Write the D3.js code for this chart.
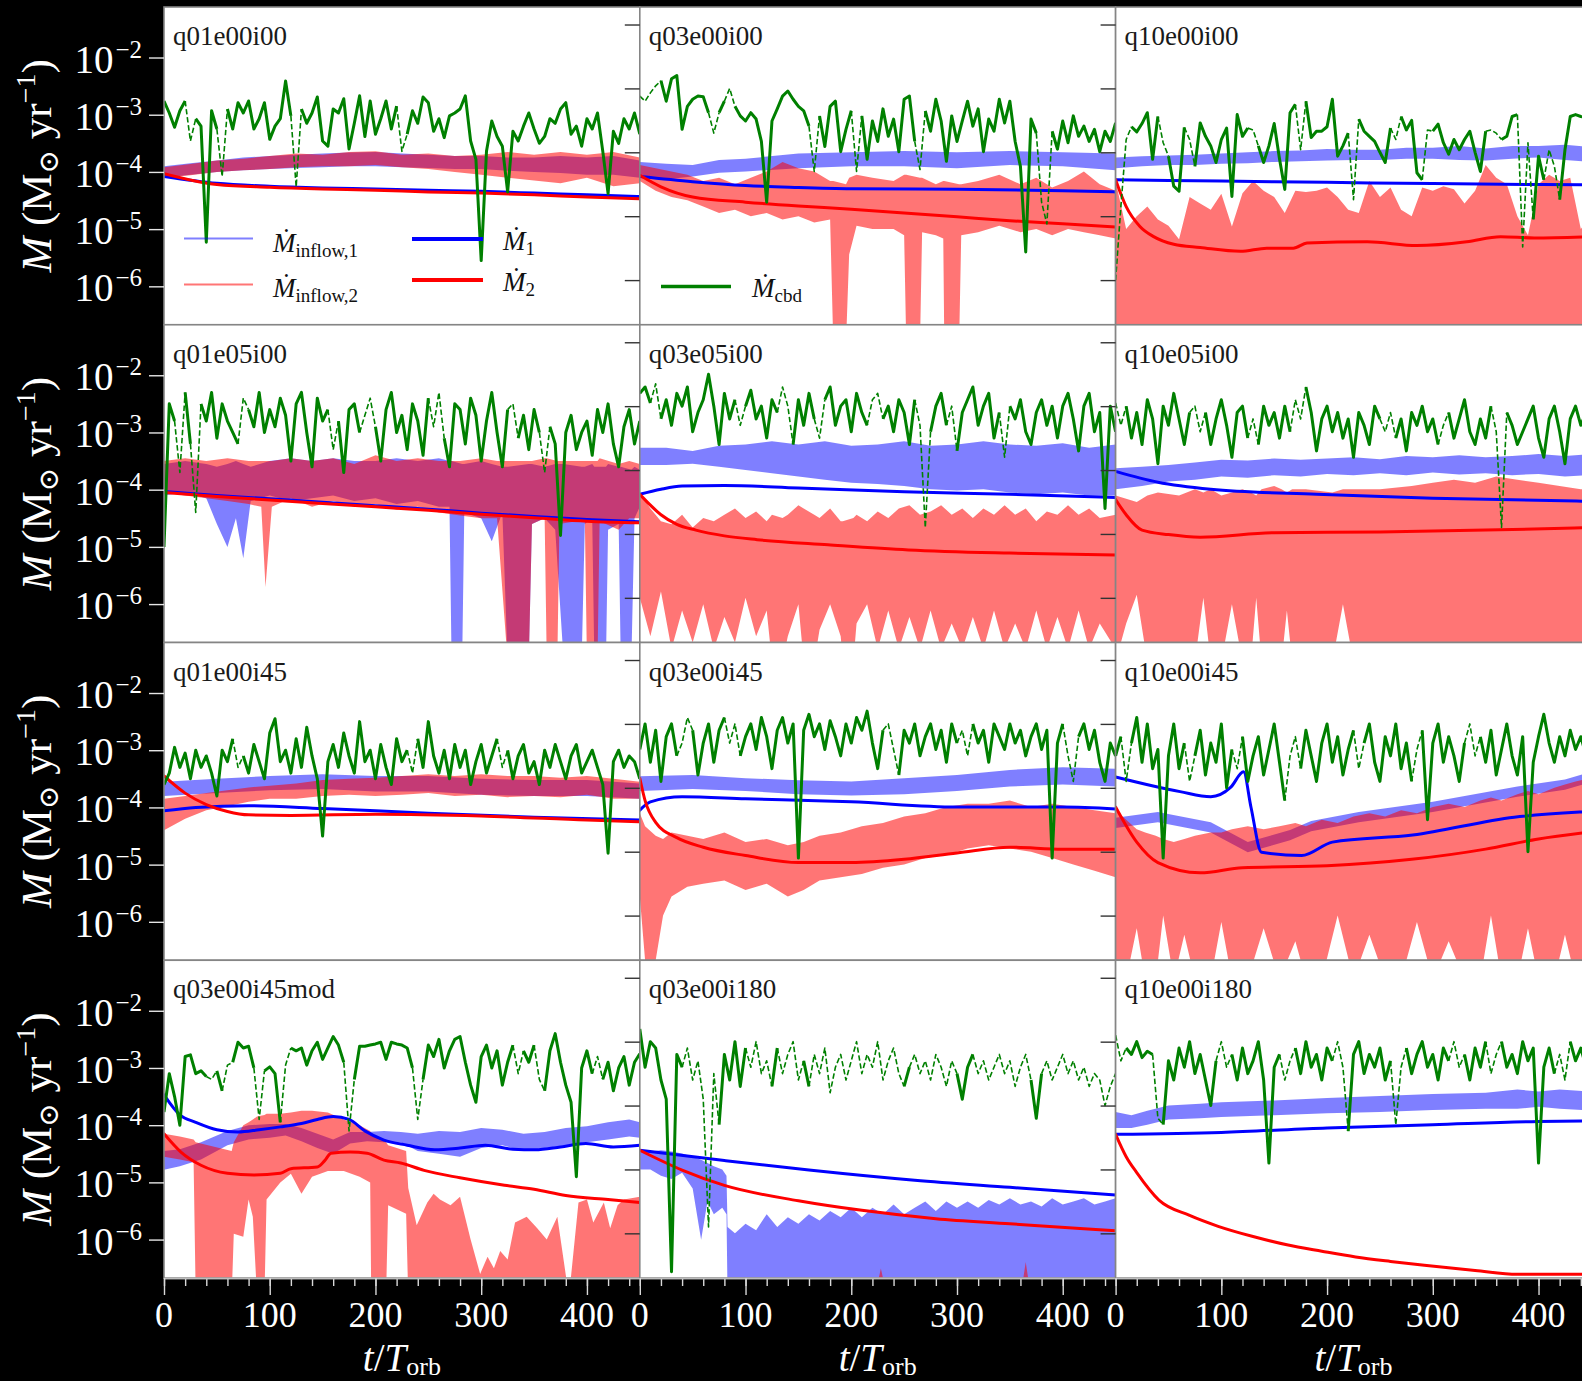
<!DOCTYPE html>
<html><head><meta charset="utf-8"><title>Accretion rate panels</title>
<script src="https://cdn.jsdelivr.net/npm/d3@7/dist/d3.min.js"></script>
<style>html,body{margin:0;padding:0;background:#000;}svg{display:block;}</style>
</head><body>
<svg id="chart" width="1582" height="1381"></svg>
<script>
// ---------- axes ----------
const xLim=[0,450];
const yLimCol1=[2.13e-7,7.64e-2];
const yLimCol23=[2.0e-7,1.88e-2];
const yTickValues=[1e-2,1e-3,1e-4,1e-5,1e-6];
const yTickExponents=["−2","−3","−4","−5","−6"];
const xMajorTicks=[0,100,200,300,400];
const xMinorTicks=[0,20,40,60,80,100,120,140,160,180,200,220,240,260,280,300,320,340,360,380,400,420,440];
const cbdStep=5;   // sampling of the circumbinary-disc accretion series (t/T_orb)
const FLOOR=-7;    // log10 value below the axis (fill reaches the bottom)
const panelNames=["q01e00i00","q03e00i00","q10e00i00","q01e05i00","q03e05i00","q10e05i00","q01e00i45","q03e00i45","q10e00i45","q03e00i45mod","q03e00i180","q10e00i180"];
// all values are log10(Mdot / Msun yr^-1)

// ---------- q01e00i00 ----------
const p1_cbd=[-2.76,-2.97,-3.22,-2.93,-2.76,-3.46,-3.07,-3.2,-5.23,-2.93,
-3.25,-4.08,-2.9,-3.25,-2.79,-2.97,-2.76,-3.25,-3.07,-2.79,
-3.43,-3.2,-3.07,-2.41,-3.02,-4.26,-2.9,-3.15,-2.97,-2.69,
-3.46,-3.55,-2.9,-2.97,-2.72,-3.6,-3.15,-2.67,-3.38,-2.76,
-3.34,-3.07,-2.76,-3.25,-2.85,-3.64,-3.34,-2.93,-3.15,-2.69,
-2.79,-3.29,-3.07,-3.4,-3.02,-2.97,-2.9,-2.67,-3.46,-3.78,
-5.55,-3.64,-3.11,-3.38,-3.55,-4.35,-3.29,-3.46,-3.2,-2.97,
-3.25,-3.5,-3.38,-3.07,-3.15,-2.9,-2.79,-3.34,-3.2,-3.55,
-3.07,-3.25,-2.97,-3.64,-4.38,-3.29,-3.5,-3.07,-3.25,-2.97,-3.34];
const p1_neg=[[20,30],[50,60],[120,130],[220,230]];
const p1_in1T=[0,25,50,75,100,125,150,175,200,225,250,275,300,325,350,375,400,425,450];
const p1_in1Hi=[-3.9,-3.85,-3.8,-3.75,-3.72,-3.7,-3.68,-3.66,-3.65,-3.68,-3.7,-3.72,-3.72,-3.75,-3.75,-3.72,-3.75,-3.72,-3.8];
const p1_in1Lo=[-4.1,-4.05,-4.0,-3.97,-3.95,-3.93,-3.92,-3.9,-3.9,-3.92,-3.93,-3.95,-3.95,-3.98,-4.0,-4.02,-4.05,-4.05,-4.1];
const p1_in2T=[0,25,50,75,100,125,150,175,200,225,250,275,300,325,350,375,400,425,450];
const p1_in2Hi=[-3.92,-3.86,-3.8,-3.77,-3.72,-3.68,-3.7,-3.65,-3.64,-3.7,-3.68,-3.72,-3.7,-3.65,-3.7,-3.65,-3.7,-3.65,-3.75];
const p1_in2Lo=[-4.1,-4.06,-4.0,-3.97,-3.95,-3.92,-3.9,-3.9,-3.88,-3.92,-3.95,-4.0,-4.05,-4.1,-4.15,-4.2,-4.1,-4.25,-4.2];
const p1_m1T=[0,50,100,150,200,250,300,350,400,450];
const p1_m1V=[-4.08,-4.2,-4.25,-4.28,-4.3,-4.32,-4.34,-4.37,-4.4,-4.43];
const p1_m2T=[0,50,100,150,200,250,300,350,400,450];
const p1_m2V=[-4.03,-4.22,-4.27,-4.3,-4.32,-4.35,-4.37,-4.4,-4.44,-4.47];

// ---------- q03e00i00 ----------
const p2_cbd=[-3.12,-3.2,-3.07,-2.96,-2.88,-3.2,-2.85,-2.8,-3.64,-3.28,
-3.17,-3.12,-3.13,-3.38,-3.7,-3.38,-3.2,-3.0,-3.28,-3.43,
-3.51,-3.38,-3.48,-3.83,-4.78,-3.51,-3.32,-3.12,-3.04,-3.17,
-3.28,-3.35,-3.59,-4.3,-3.43,-3.91,-3.28,-3.2,-3.99,-3.64,
-3.35,-4.3,-3.43,-4.11,-3.51,-3.83,-3.32,-3.75,-3.48,-3.99,
-3.17,-3.12,-3.83,-4.27,-3.35,-3.67,-3.17,-3.51,-4.14,-3.43,
-3.83,-3.51,-3.2,-3.59,-3.32,-3.99,-3.48,-3.67,-3.17,-3.54,
-3.2,-3.83,-4.22,-5.56,-3.48,-3.7,-4.78,-5.12,-3.67,-3.95,
-3.51,-3.85,-3.43,-3.75,-3.59,-3.83,-3.64,-3.99,-3.67,-3.83,-3.54];
const p2_neg=[[0,20],[65,75],[80,90],[160,170],[200,210],[260,270],[375,390]];
const p2_in1T=[0,25,50,75,100,150,200,250,300,350,400,450];
const p2_in1Hi=[-4.15,-4.18,-4.2,-4.12,-4.1,-4.02,-4.0,-3.98,-4.0,-3.98,-4.0,-4.02];
const p2_in1Lo=[-4.4,-4.42,-4.38,-4.32,-4.3,-4.25,-4.22,-4.22,-4.25,-4.2,-4.22,-4.28];
const p2_in2T=[0,15,30,45,60,75,90,105,120,135,150,165,180,183,195,198,205,220,240,250,252,265,267,280,287,288,302,304,320,340,360,375,390,405,420,435,450];
const p2_in2Hi=[-4.2,-4.25,-4.3,-4.35,-4.45,-4.4,-4.5,-4.4,-4.3,-4.15,-4.25,-4.3,-4.45,-4.45,-4.5,-4.4,-4.35,-4.4,-4.45,-4.35,-4.35,-4.4,-4.4,-4.5,-4.45,-4.45,-4.5,-4.5,-4.45,-4.35,-4.5,-4.4,-4.55,-4.45,-4.3,-4.5,-4.6];
const p2_in2Lo=[-4.45,-4.6,-4.7,-4.75,-4.85,-4.95,-4.9,-5.0,-4.95,-5.05,-5.0,-5.1,-5.05,-7,-7,-5.6,-5.15,-5.2,-5.2,-5.3,-7,-7,-5.25,-5.3,-5.35,-7,-7,-5.3,-5.25,-5.15,-5.25,-5.2,-5.3,-5.2,-5.25,-5.3,-5.35];
const p2_m1T=[0,50,100,150,200,300,400,450];
const p2_m1V=[-4.38,-4.46,-4.52,-4.55,-4.57,-4.58,-4.6,-4.62];
const p2_m2T=[0,20,50,100,150,200,250,300,350,400,450];
const p2_m2V=[-4.36,-4.54,-4.7,-4.78,-4.84,-4.89,-4.95,-5.01,-5.07,-5.12,-5.17];

// ---------- q10e00i00 ----------
const p3_cbd=[-6.0,-4.85,-3.8,-3.6,-3.68,-3.55,-3.38,-4.11,-3.44,-3.85,
-4.06,-4.53,-4.61,-3.61,-3.8,-4.22,-3.54,-3.75,-3.9,-4.16,
-3.8,-3.62,-4.69,-3.41,-3.75,-3.62,-3.65,-3.9,-4.16,-3.9,
-3.55,-4.1,-4.58,-3.38,-3.25,-3.96,-3.2,-3.77,-3.67,-3.67,
-3.6,-3.17,-4.06,-3.9,-3.7,-4.74,-3.48,-3.67,-3.75,-3.83,
-4.0,-4.16,-3.62,-3.8,-3.44,-3.65,-3.5,-4.32,-4.43,-3.65,
-3.67,-3.56,-3.85,-4.03,-3.8,-3.96,-3.8,-3.67,-4.0,-4.3,
-3.67,-3.65,-3.7,-3.8,-3.75,-3.44,-3.41,-5.48,-3.85,-5.05,
-4.06,-4.43,-3.96,-4.22,-4.74,-3.96,-3.44,-3.41,-3.44,-3.46,-3.6];
const p3_neg=[[0,15],[40,50],[65,75],[125,135],[170,180],[220,230],[260,270],[290,300],[350,365],[380,395],[405,420]];
const p3_in1T=[0,25,50,75,100,125,150,175,200,225,250,275,300,325,350,375,400,425,450];
const p3_in1Hi=[-4.08,-4.06,-4.05,-4.04,-4.02,-4.0,-3.98,-3.97,-3.95,-3.96,-3.96,-3.93,-3.93,-3.9,-3.94,-3.9,-3.9,-3.88,-3.92];
const p3_in1Lo=[-4.25,-4.22,-4.2,-4.2,-4.18,-4.17,-4.15,-4.14,-4.13,-4.12,-4.12,-4.1,-4.1,-4.12,-4.13,-4.1,-4.08,-4.12,-4.15];
const p3_in2T=[0,10,20,30,40,50,60,70,80,90,100,110,120,130,140,150,160,170,180,190,200,210,220,230,240,250,260,270,280,290,300,310,320,330,340,350,360,370,380,390,400,410,420,430,440,450];
const p3_in2Hi=[-4.45,-5.2,-5.0,-4.85,-5.05,-5.15,-5.36,-4.7,-4.8,-4.9,-4.65,-5.16,-4.64,-4.45,-4.6,-4.7,-4.95,-4.6,-4.62,-4.6,-4.55,-4.7,-4.9,-4.95,-4.45,-4.7,-4.55,-4.9,-5.0,-4.55,-4.6,-4.53,-4.58,-4.8,-4.6,-4.2,-4.4,-4.5,-5.0,-5.3,-4.5,-4.35,-4.45,-4.4,-5.2,-5.0];
const p3_in2Lo=FLOOR;
const p3_m1T=[0,100,200,300,450];
const p3_m1V=[-4.43,-4.45,-4.47,-4.49,-4.51];
const p3_m2T=[0,10,23,36,55,80,118,143,168,181,238,285,332,364,396,450];
const p3_m2V=[-4.43,-4.85,-5.16,-5.32,-5.44,-5.49,-5.55,-5.5,-5.5,-5.42,-5.4,-5.46,-5.4,-5.32,-5.34,-5.32];

// ---------- q01e05i00 ----------
const p4_cbd=[-5.0,-2.5,-2.8,-3.7,-2.3,-3.2,-4.4,-2.5,-2.8,-2.3,
-3.1,-2.5,-2.8,-3.0,-3.2,-2.4,-2.6,-2.9,-2.3,-3.0,
-2.6,-2.9,-2.4,-2.7,-3.5,-2.5,-2.3,-3.0,-3.6,-2.4,
-2.8,-2.6,-3.3,-2.8,-3.7,-2.6,-2.5,-3.0,-2.7,-2.4,
-2.9,-3.5,-2.6,-2.3,-3.0,-2.7,-3.3,-2.5,-2.8,-3.4,
-2.4,-2.9,-2.3,-3.1,-3.6,-2.5,-2.6,-3.2,-2.4,-2.7,
-3.5,-2.8,-2.3,-3.0,-3.6,-2.6,-2.5,-3.1,-2.7,-3.3,
-2.6,-3.0,-3.7,-2.9,-3.2,-4.8,-3.0,-2.7,-3.3,-3.0,
-2.8,-3.4,-2.6,-3.0,-2.5,-3.2,-3.6,-2.9,-2.6,-3.2,-2.8];
const p4_neg=[[10,20],[25,35],[70,80],[155,165],[185,200],[250,265],[325,335],[355,365]];
const p4_in1T=[0,20,40,50,60,68,75,82,100,120,140,160,180,200,220,240,260,270,272,282,284,300,310,320,325,345,348,360,370,378,395,398,405,407,418,420,430,432,442,445,450];
const p4_in1Hi=[-3.55,-3.5,-3.55,-3.6,-3.55,-3.5,-3.55,-3.6,-3.5,-3.45,-3.5,-3.45,-3.5,-3.5,-3.45,-3.5,-3.45,-3.5,-3.5,-3.55,-3.55,-3.5,-3.55,-3.6,-3.6,-3.55,-3.55,-3.6,-3.55,-3.55,-3.6,-3.6,-3.55,-3.6,-3.6,-3.55,-3.6,-3.6,-3.65,-3.6,-3.65];
const p4_in1Lo=[-4.1,-4.05,-4.15,-4.6,-5.0,-4.5,-5.2,-4.2,-4.1,-4.2,-4.15,-4.1,-4.2,-4.15,-4.25,-4.2,-4.3,-4.3,-7,-7,-4.4,-4.5,-4.9,-4.4,-7,-7,-4.6,-4.5,-4.7,-7,-7,-4.6,-4.5,-7,-7,-4.7,-4.6,-7,-7,-4.5,-4.3];
const p4_in2T=[0,20,40,60,80,92,96,102,120,140,160,180,200,220,240,260,280,300,315,325,345,348,360,362,372,374,390,398,400,410,412,430,440,450];
const p4_in2Hi=[-3.5,-3.45,-3.5,-3.45,-3.5,-3.5,-3.5,-3.5,-3.45,-3.5,-3.45,-3.55,-3.4,-3.5,-3.45,-3.5,-3.5,-3.45,-3.5,-3.5,-3.5,-3.5,-3.45,-3.45,-3.5,-3.5,-3.5,-3.5,-3.5,-3.5,-3.45,-3.55,-3.5,-3.55];
const p4_in2Lo=[-4.05,-4.1,-4.15,-4.2,-4.25,-4.3,-5.7,-4.3,-4.15,-4.3,-4.2,-4.3,-4.25,-4.35,-4.3,-4.4,-4.45,-4.5,-4.5,-7,-7,-4.6,-4.5,-7,-7,-4.6,-4.55,-4.5,-7,-7,-4.55,-4.7,-4.5,-4.5];
const p4_m1T=[0,50,100,150,200,250,300,350,400,450];
const p4_m1V=[-4.03,-4.1,-4.16,-4.22,-4.28,-4.34,-4.41,-4.47,-4.52,-4.56];
const p4_m2T=[0,50,100,150,200,250,300,350,400,450];
const p4_m2V=[-4.05,-4.12,-4.18,-4.24,-4.3,-4.36,-4.43,-4.49,-4.55,-4.58];

// ---------- q03e05i00 ----------
const p5_cbd=[-2.8,-2.7,-2.95,-2.65,-3.2,-2.9,-3.3,-2.8,-3.0,-2.7,
-3.4,-3.1,-2.9,-2.5,-3.0,-3.6,-2.8,-3.2,-2.9,-3.3,
-3.0,-2.75,-3.2,-3.0,-3.5,-2.9,-3.1,-2.7,-3.0,-3.6,
-2.9,-3.3,-2.8,-3.2,-3.5,-2.9,-2.7,-3.3,-3.0,-2.9,
-3.4,-2.8,-3.1,-3.3,-2.9,-2.8,-3.2,-3.0,-3.4,-2.9,
-3.1,-3.6,-2.9,-3.3,-4.9,-3.4,-3.0,-2.8,-3.3,-3.0,
-3.7,-3.1,-2.9,-2.7,-3.3,-3.0,-2.8,-3.5,-3.1,-3.8,
-3.0,-3.2,-2.9,-3.4,-3.6,-3.1,-2.9,-3.3,-3.0,-3.5,
-3.0,-2.8,-3.2,-3.7,-3.0,-2.8,-3.4,-3.1,-4.6,-3.0,-3.4];
const p5_neg=[[10,20],[90,100],[130,145],[165,175],[215,230],[260,275],[290,300],[340,350]];
const p5_in1T=[0,25,50,75,100,125,150,175,200,225,250,275,300,325,350,375,400,425,450];
const p5_in1Hi=[-3.65,-3.65,-3.7,-3.62,-3.6,-3.55,-3.6,-3.55,-3.62,-3.6,-3.55,-3.62,-3.6,-3.55,-3.6,-3.62,-3.58,-3.65,-3.6];
const p5_in1Lo=[-3.92,-3.92,-3.9,-3.95,-4.0,-4.05,-4.1,-4.15,-4.2,-4.22,-4.25,-4.3,-4.32,-4.3,-4.35,-4.38,-4.35,-4.4,-4.4];
const p5_in2T=[0,10,20,30,40,50,60,70,80,90,100,110,120,125,135,140,150,155,165,170,180,190,192,202,205,215,225,235,245,255,265,275,285,295,305,315,325,335,345,355,365,375,385,395,405,415,425,435,450];
const p5_in2Hi=[-4.35,-4.6,-4.8,-4.85,-4.7,-4.9,-4.75,-4.8,-4.7,-4.6,-4.75,-4.65,-4.8,-4.7,-4.75,-4.7,-4.55,-4.6,-4.7,-4.75,-4.6,-4.8,-4.8,-4.75,-4.7,-4.8,-4.65,-4.75,-4.6,-4.55,-4.7,-4.65,-4.55,-4.7,-4.6,-4.75,-4.6,-4.7,-4.55,-4.7,-4.6,-4.8,-4.65,-4.7,-4.55,-4.7,-4.6,-4.75,-4.7];
const p5_in2Lo=[-6.0,-6.6,-5.9,-6.8,-6.2,-6.7,-6.1,-6.8,-6.3,-6.7,-6.0,-6.6,-6.2,-7,-7,-6.6,-6.1,-7,-7,-6.5,-6.1,-6.6,-7,-7,-6.4,-6.1,-6.8,-6.2,-6.8,-6.3,-6.8,-6.2,-6.8,-6.4,-6.8,-6.3,-6.8,-6.2,-6.8,-6.4,-6.8,-6.2,-6.8,-6.3,-6.8,-6.2,-6.8,-6.4,-6.8];
const p5_m1T=[0,20,40,80,150,250,350,450];
const p5_m1V=[-4.38,-4.3,-4.25,-4.24,-4.28,-4.34,-4.38,-4.43];
const p5_m2T=[0,10,20,35,53,80,111,178,254,350,450];
const p5_m2V=[-4.38,-4.55,-4.7,-4.85,-4.94,-5.03,-5.09,-5.17,-5.25,-5.3,-5.33];

// ---------- q10e05i00 ----------
const p6_cbd=[-2.95,-3.3,-3.0,-3.5,-3.1,-3.6,-2.9,-3.2,-3.9,-3.0,
-3.3,-2.8,-3.2,-3.6,-3.1,-3.0,-3.4,-3.1,-3.6,-3.2,
-2.9,-3.3,-3.8,-3.1,-3.0,-3.5,-3.2,-3.6,-3.0,-3.3,
-3.1,-3.5,-3.0,-3.4,-2.9,-3.2,-2.7,-3.1,-3.7,-3.2,
-3.0,-3.4,-3.1,-3.5,-3.2,-3.8,-3.1,-3.3,-3.6,-3.0,
-3.2,-3.4,-3.1,-3.5,-3.2,-3.7,-3.1,-3.3,-3.0,-3.4,
-3.2,-3.6,-3.3,-3.1,-3.5,-3.2,-2.9,-3.4,-3.6,-3.2,
-3.5,-3.0,-3.4,-4.9,-3.1,-3.3,-3.6,-3.4,-3.2,-3.0,
-3.5,-3.8,-3.2,-3.0,-3.4,-3.9,-3.2,-3.0,-3.3,-3.1,-3.4];
const p6_neg=[[0,10],[70,85],[125,135],[165,180],[250,265],[305,315],[355,370]];
const p6_in1T=[0,25,50,75,100,125,150,175,200,225,250,275,300,325,350,375,400,425,450];
const p6_in1Hi=[-3.97,-3.95,-3.92,-3.88,-3.84,-3.85,-3.82,-3.84,-3.82,-3.8,-3.83,-3.78,-3.8,-3.77,-3.8,-3.78,-3.75,-3.78,-3.75];
const p6_in1Lo=[-4.3,-4.25,-4.18,-4.15,-4.1,-4.12,-4.08,-4.1,-4.06,-4.08,-4.05,-4.08,-4.04,-4.07,-4.05,-4.08,-4.06,-4.1,-4.08];
const p6_in2T=[0,10,20,30,40,60,75,83,90,100,110,120,128,133,138,150,157,162,167,180,205,215,225,250,280,300,320,340,360,380,400,420,440,450];
const p6_in2Hi=[-4.4,-4.45,-4.5,-4.4,-4.35,-4.4,-4.3,-4.35,-4.3,-4.4,-4.35,-4.3,-4.35,-4.4,-4.3,-4.25,-4.3,-4.35,-4.3,-4.3,-4.35,-4.3,-4.3,-4.3,-4.25,-4.2,-4.15,-4.2,-4.1,-4.15,-4.2,-4.25,-4.3,-4.3];
const p6_in2Lo=[-7,-6.4,-5.95,-7,-7,-7,-7,-6.0,-7,-7,-6.1,-7,-7,-6.0,-7,-7,-7,-6.2,-7,-7,-7,-6.1,-7,-7,-7,-7,-7,-7,-7,-7,-7,-7,-7,-7];
const p6_m1T=[0,40,90,190,300,450];
const p6_m1V=[-4.02,-4.19,-4.3,-4.38,-4.44,-4.49];
const p6_m2T=[0,10,25,50,80,150,250,350,450];
const p6_m2V=[-4.46,-4.7,-4.94,-5.01,-5.05,-4.98,-4.97,-4.94,-4.9];

// ---------- q01e00i45 ----------
const p7_cbd=[-3.6,-3.4,-2.95,-3.3,-3.05,-3.5,-3.0,-3.3,-3.1,-3.4,
-3.8,-3.0,-3.2,-2.8,-3.3,-3.1,-3.4,-2.9,-3.2,-3.5,
-2.7,-2.45,-3.2,-3.0,-3.4,-2.8,-3.3,-2.6,-3.1,-3.5,
-4.5,-3.2,-2.9,-3.3,-2.7,-3.1,-3.4,-2.5,-3.2,-3.0,
-3.5,-2.9,-3.3,-3.6,-2.8,-3.2,-3.0,-3.4,-2.8,-3.3,
-2.5,-3.1,-3.4,-3.0,-3.5,-2.9,-3.3,-3.0,-3.6,-3.2,
-2.9,-3.4,-3.1,-2.8,-3.3,-3.0,-3.5,-3.1,-2.9,-3.4,
-3.2,-3.6,-3.0,-3.3,-2.9,-3.2,-3.5,-3.1,-2.9,-3.4,
-3.2,-3.0,-3.3,-3.6,-4.8,-3.2,-3.0,-3.3,-3.1,-3.2,-3.5];
const p7_neg=[[65,75],[230,240],[315,325]];
const p7_in1T=[0,50,100,150,200,250,300,350,400,450];
const p7_in1Hi=[-3.55,-3.5,-3.45,-3.42,-3.45,-3.45,-3.5,-3.52,-3.52,-3.58];
const p7_in1Lo=[-3.8,-3.75,-3.7,-3.68,-3.72,-3.72,-3.78,-3.8,-3.8,-3.85];
const p7_in2T=[0,20,40,60,80,100,125,150,175,200,225,250,275,300,325,350,375,400,425,450];
const p7_in2Hi=[-3.85,-3.8,-3.75,-3.7,-3.65,-3.62,-3.58,-3.52,-3.5,-3.48,-3.45,-3.42,-3.45,-3.42,-3.45,-3.45,-3.48,-3.45,-3.5,-3.55];
const p7_in2Lo=[-4.4,-4.2,-4.05,-3.98,-3.9,-3.85,-3.85,-3.8,-3.78,-3.8,-3.78,-3.75,-3.8,-3.78,-3.82,-3.8,-3.82,-3.78,-3.85,-3.85];
const p7_m1T=[0,30,80,150,250,350,450];
const p7_m1V=[-4.06,-4.0,-3.97,-4.02,-4.1,-4.17,-4.22];
const p7_m2T=[0,20,40,60,80,120,200,300,400,450];
const p7_m2V=[-3.45,-3.75,-3.95,-4.07,-4.13,-4.14,-4.12,-4.15,-4.22,-4.25];

// ---------- q03e00i45 ----------
const p8_cbd=[-3.4,-3.0,-3.6,-3.1,-3.9,-3.2,-3.0,-3.5,-3.3,-2.9,
-3.1,-3.8,-3.3,-3.0,-3.6,-3.1,-2.9,-3.3,-3.0,-3.5,
-3.2,-3.0,-3.4,-2.9,-3.2,-3.7,-3.1,-2.9,-3.3,-3.0,
-5.1,-3.1,-2.85,-3.2,-3.0,-3.4,-2.95,-3.2,-3.5,-3.0,
-3.3,-2.9,-3.1,-2.8,-3.3,-3.7,-3.1,-3.0,-3.4,-3.8,
-3.1,-3.3,-3.0,-3.5,-3.2,-3.0,-3.4,-3.1,-3.6,-3.0,
-3.3,-3.1,-3.5,-3.0,-3.3,-3.1,-3.6,-3.0,-3.2,-3.4,
-3.0,-3.3,-3.1,-3.5,-3.2,-3.0,-3.4,-3.1,-5.1,-3.3,
-3.0,-3.5,-3.9,-3.2,-3.0,-3.4,-3.1,-3.6,-3.9,-3.3,-3.5];
const p8_neg=[[35,50],[80,95],[230,245],[300,315],[400,415]];
const p8_in1T=[0,50,100,150,200,250,300,350,400,450];
const p8_in1Hi=[-3.82,-3.8,-3.85,-3.88,-3.9,-3.85,-3.8,-3.72,-3.68,-3.7];
const p8_in1Lo=[-4.05,-4.02,-4.05,-4.1,-4.12,-4.1,-4.05,-3.98,-3.95,-3.98];
const p8_in2T=[0,5,15,22,30,45,60,80,100,120,140,155,170,190,210,230,250,270,290,310,330,350,370,390,410,430,450];
const p8_in2Hi=[-4.4,-4.6,-4.75,-4.8,-4.7,-4.75,-4.8,-4.7,-4.85,-4.8,-4.9,-4.85,-4.75,-4.7,-4.6,-4.55,-4.45,-4.4,-4.3,-4.25,-4.25,-4.2,-4.3,-4.25,-4.3,-4.35,-4.4];
const p8_in2Lo=[-5.7,-6.7,-6.7,-6.0,-5.7,-5.55,-5.5,-5.45,-5.6,-5.5,-5.7,-5.6,-5.45,-5.4,-5.35,-5.25,-5.2,-5.1,-5.05,-4.95,-4.9,-4.95,-5.0,-5.1,-5.2,-5.3,-5.4];
const p8_m1T=[0,10,40,100,200,300,400,450];
const p8_m1V=[-4.35,-4.22,-4.14,-4.17,-4.22,-4.3,-4.3,-4.33];
const p8_m2T=[0,5,15,35,60,100,150,200,250,300,350,400,450];
const p8_m2V=[-3.85,-4.2,-4.54,-4.78,-4.93,-5.06,-5.17,-5.17,-5.12,-5.02,-4.93,-4.96,-4.96];

// ---------- q10e00i45 ----------
const p9_cbd=[-3.5,-3.2,-3.9,-3.3,-2.9,-3.6,-3.0,-3.7,-3.4,-5.1,
-3.5,-3.0,-3.7,-3.3,-3.9,-3.5,-3.1,-3.8,-3.3,-3.6,
-3.0,-4.0,-3.4,-3.7,-3.2,-3.9,-3.5,-3.2,-3.8,-3.4,
-3.0,-3.6,-4.2,-3.5,-3.2,-3.7,-3.1,-3.5,-3.9,-3.3,
-3.0,-3.6,-3.2,-3.8,-3.4,-3.1,-3.7,-3.3,-3.0,-3.6,
-3.9,-3.2,-3.5,-3.0,-3.7,-3.3,-3.9,-3.4,-3.1,-4.5,
-3.3,-3.0,-3.6,-3.2,-3.5,-3.9,-3.3,-3.0,-3.5,-3.2,
-3.6,-3.1,-3.8,-3.4,-3.0,-3.5,-3.8,-3.2,-5.0,-3.6,
-3.2,-2.85,-3.3,-3.6,-3.2,-3.5,-3.1,-3.4,-3.2,-3.5,-3.3];
const p9_neg=[[5,15],[65,75],[110,120],[160,175],[225,235],[280,290],[330,345]];
const p9_in1T=[0,40,90,125,165,185,230,300,380,425,450];
const p9_in1Hi=[-4.47,-4.38,-4.54,-4.85,-4.66,-4.52,-4.38,-4.22,-3.98,-3.87,-3.75];
const p9_in1Lo=[-4.63,-4.54,-4.7,-5.01,-4.82,-4.68,-4.54,-4.38,-4.14,-4.03,-3.91];
const p9_in2T=[0,10,20,28,38,45,55,65,75,90,100,110,125,140,155,170,180,195,210,225,240,255,270,285,300,315,330,345,355,365,380,390,400,415,425,435,450];
const p9_in2Hi=[-4.35,-4.5,-4.65,-4.7,-4.75,-4.8,-4.85,-4.8,-4.75,-4.7,-4.7,-4.65,-4.6,-4.65,-4.6,-4.55,-4.6,-4.5,-4.55,-4.45,-4.4,-4.45,-4.35,-4.4,-4.3,-4.25,-4.3,-4.2,-4.15,-4.2,-4.1,-4.05,-4.1,-4.0,-3.95,-3.9,-3.85];
const p9_in2Lo=[-7,-7,-6.2,-7,-7,-6.0,-7,-6.3,-7,-7,-6.1,-7,-7,-6.2,-7,-6.4,-7,-7,-6.0,-7,-6.3,-7,-7,-6.1,-7,-6.4,-7,-7,-6.0,-7,-7,-6.2,-7,-7,-6.3,-7,-7];
const p9_m1T=[0,61,90,109,121,128,138,176,205,281,377,439,450];
const p9_m1V=[-3.83,-4.06,-4.14,-3.99,-3.75,-4.3,-5.01,-5.06,-4.85,-4.74,-4.46,-4.38,-4.37];
const p9_m2T=[0,20,40,80,120,200,280,350,400,450];
const p9_m2V=[-4.3,-4.85,-5.17,-5.33,-5.25,-5.22,-5.12,-4.96,-4.8,-4.69];

// ---------- q03e00i45mod ----------
const p10_cbd=[-3.77,-3.1,-3.5,-4.0,-2.8,-2.77,-3.1,-3.05,-3.15,-3.2,
-3.05,-3.4,-2.95,-2.9,-2.55,-2.65,-2.62,-3.0,-3.9,-3.05,
-2.98,-3.1,-3.95,-2.95,-2.65,-2.7,-2.65,-2.95,-2.7,-2.55,
-2.85,-2.65,-2.45,-2.6,-2.9,-4.1,-3.2,-2.62,-2.62,-2.6,
-2.58,-2.55,-2.85,-2.55,-2.58,-2.6,-2.65,-3.0,-3.9,-3.2,
-2.6,-2.8,-2.5,-3.0,-2.7,-2.5,-2.45,-2.9,-3.3,-3.6,
-2.8,-2.6,-3.0,-2.7,-3.3,-2.9,-2.6,-3.1,-2.7,-2.9,
-2.6,-3.2,-3.4,-2.7,-2.4,-2.9,-3.3,-3.6,-4.9,-3.0,
-2.7,-3.1,-2.8,-3.2,-2.9,-3.4,-3.0,-2.8,-3.3,-2.9,-2.75];
const p10_neg=[[40,50],[55,65],[85,95],[110,120],[170,180],[235,245],[330,340],[350,360],[405,415]];
const p10_in1T=[0,15,35,60,80,100,115,130,145,160,176,192,208,224,240,260,280,300,320,340,360,380,400,420,440,450];
const p10_in1Hi=[-4.45,-4.42,-4.3,-4.1,-4.0,-3.98,-3.98,-4.05,-4.15,-4.25,-4.12,-4.12,-4.1,-4.12,-4.15,-4.1,-4.12,-4.05,-4.08,-4.15,-4.12,-4.05,-4.02,-3.95,-3.9,-3.95];
const p10_in1Lo=[-4.78,-4.72,-4.6,-4.35,-4.25,-4.22,-4.18,-4.28,-4.4,-4.5,-4.32,-4.28,-4.3,-4.3,-4.45,-4.5,-4.55,-4.4,-4.35,-4.45,-4.4,-4.35,-4.3,-4.25,-4.2,-4.22];
const p10_in2T=[0,15,28,30,64,66,75,80,84,88,95,97,110,120,130,140,155,170,185,195,196,210,212,229,231,239,249,255,261,271,280,290,299,306,312,318,325,332,343,353,362,372,383,392,400,406,416,422,429,435,450];
const p10_in2Hi=[-4.15,-4.2,-4.25,-4.3,-4.45,-4.3,-4.0,-3.95,-3.9,-3.85,-3.82,-3.8,-3.8,-3.78,-3.75,-3.75,-3.78,-3.9,-4.0,-4.1,-4.15,-4.3,-4.35,-4.45,-5.1,-5.75,-5.35,-5.2,-5.3,-5.4,-5.25,-6.0,-6.6,-6.3,-6.5,-6.2,-6.35,-5.7,-5.6,-5.8,-6.0,-5.6,-7,-5.35,-5.3,-5.7,-5.35,-5.8,-5.4,-5.3,-5.25];
const p10_in2Lo=[-4.55,-4.6,-4.65,-7,-7,-5.9,-5.95,-5.3,-5.6,-7,-7,-5.3,-5.0,-4.85,-5.2,-4.9,-4.8,-4.8,-4.9,-5.0,-7,-7,-5.4,-5.55,-7,-7,-7,-7,-7,-7,-7,-7,-7,-7,-7,-7,-7,-7,-7,-7,-7,-7,-7,-7,-7,-7,-7,-7,-7,-7,-7];
const p10_m1T=[0,15,30,50,70,90,110,130,145,160,175,190,208,230,256,280,304,330,351,375,399,425,450];
const p10_m1V=[-3.47,-3.82,-3.95,-4.08,-4.12,-4.08,-4.03,-3.97,-3.9,-3.85,-3.9,-4.1,-4.26,-4.35,-4.43,-4.4,-4.35,-4.42,-4.43,-4.38,-4.32,-4.38,-4.35];
const p10_m2T=[0,16,35,60,85,110,120,145,152,158,176,192,208,224,246,280,322,350,380,420,450];
const p10_m2V=[-4.15,-4.47,-4.7,-4.84,-4.87,-4.84,-4.76,-4.73,-4.62,-4.49,-4.47,-4.49,-4.61,-4.66,-4.79,-4.92,-5.05,-5.12,-5.23,-5.3,-5.35];

// ---------- q03e00i180 ----------
const p11_cbd=[-2.8,-3.4,-3.0,-3.1,-3.6,-3.9,-6.6,-3.2,-3.4,-3.1,
-3.6,-3.3,-3.9,-5.9,-3.5,-4.3,-3.2,-3.6,-3.0,-3.7,
-3.1,-3.4,-3.0,-3.5,-3.3,-3.7,-3.1,-3.5,-3.2,-3.0,
-3.6,-3.3,-3.7,-3.2,-3.5,-3.1,-3.8,-3.4,-3.2,-3.6,
-3.3,-3.0,-3.5,-3.2,-3.4,-3.0,-3.6,-3.3,-3.1,-3.5,
-3.7,-3.4,-3.2,-3.5,-3.3,-3.6,-3.2,-3.4,-3.7,-3.3,
-3.5,-3.9,-3.4,-3.2,-3.5,-3.3,-3.6,-3.4,-3.2,-3.5,
-3.3,-3.7,-3.4,-3.2,-3.6,-4.2,-3.5,-3.3,-3.6,-3.4,
-3.2,-3.5,-3.3,-3.6,-3.4,-3.7,-3.5,-3.6,-4.0,-3.7,-3.5];
const p11_neg=[[40,75],[100,125],[130,155],[160,250],[255,300],[315,370],[380,450]];
const p11_in1T=[0,10,20,30,40,50,58,64,70,78,82,83,90,100,110,120,130,140,150,160,170,180,190,200,210,220,230,240,250,260,270,280,290,300,310,320,330,340,350,360,370,380,390,400,410,420,430,440,450];
const p11_in1Hi=[-4.72,-4.72,-4.7,-4.72,-4.75,-4.8,-4.85,-4.9,-4.95,-5.0,-5.1,-5.9,-6.0,-5.85,-5.95,-5.7,-5.9,-5.75,-5.85,-5.7,-5.8,-5.65,-5.75,-5.6,-5.75,-5.6,-5.7,-5.55,-5.7,-5.6,-5.5,-5.65,-5.5,-5.6,-5.5,-5.6,-5.48,-5.55,-5.45,-5.55,-5.5,-5.58,-5.45,-5.55,-5.5,-5.45,-5.55,-5.5,-5.45];
const p11_in1Lo=[-5.0,-5.0,-5.1,-5.15,-5.05,-5.3,-6.1,-5.5,-5.7,-5.6,-5.7,-7,-7,-7,-7,-7,-7,-7,-7,-7,-7,-7,-7,-7,-7,-7,-7,-7,-7,-7,-7,-7,-7,-7,-7,-7,-7,-7,-7,-7,-7,-7,-7,-7,-7,-7,-7,-7,-7];
const p11_in2T=[0,222,228,234,360,365,370,450];
const p11_in2Hi=[-7,-7,-6.55,-7,-7,-6.45,-7,-7];
const p11_in2Lo=FLOOR;
const p11_m1T=[0,80,160,260,350,450];
const p11_m1V=[-4.7,-4.86,-5.01,-5.17,-5.28,-5.4];
const p11_m2T=[0,40,80,150,210,280,350,420,450];
const p11_m2V=[-4.7,-5.01,-5.25,-5.49,-5.64,-5.77,-5.85,-5.93,-5.96];

// ---------- q10e00i180 ----------
const p12_cbd=[-2.9,-3.3,-3.1,-3.2,-3.0,-3.25,-3.15,-3.2,-4.2,-4.3,
-3.3,-3.6,-3.1,-3.4,-3.0,-3.5,-3.2,-3.6,-4.0,-3.3,
-3.0,-3.4,-3.2,-3.6,-3.1,-3.5,-3.3,-3.0,-3.6,-4.9,
-3.4,-3.2,-3.6,-3.3,-3.1,-3.5,-3.0,-3.4,-3.2,-3.6,
-3.1,-3.3,-3.0,-3.4,-4.4,-3.2,-3.0,-3.5,-3.2,-3.4,
-3.1,-3.6,-3.3,-4.3,-3.4,-3.1,-3.5,-3.2,-3.0,-3.4,
-3.2,-3.6,-3.1,-3.3,-3.0,-3.4,-3.2,-3.6,-3.1,-3.4,
-3.0,-3.5,-3.2,-3.0,-3.4,-3.2,-3.5,-3.0,-3.3,-3.1,
-4.9,-3.4,-3.1,-3.5,-3.2,-3.6,-3.0,-3.3,-3.1,-3.4,-3.2];
const p12_neg=[[0,10],[35,45],[95,110],[155,170],[205,220],[260,275],[315,330],[350,365],[415,430]];
const p12_in1T=[0,15,30,50,80,100,150,200,250,300,350,380,400,420,450];
const p12_in1Hi=[-4.1,-4.15,-4.08,-4.0,-3.97,-3.95,-3.92,-3.88,-3.85,-3.82,-3.8,-3.75,-3.78,-3.75,-3.78];
const p12_in1Lo=[-4.35,-4.35,-4.3,-4.22,-4.2,-4.18,-4.15,-4.12,-4.1,-4.07,-4.05,-4.05,-4.02,-4.05,-4.08];
const p12_m1T=[0,100,200,300,400,450];
const p12_m1V=[-4.45,-4.42,-4.35,-4.3,-4.25,-4.24];
const p12_m2T=[0,10,20,41,70,97,130,162,195,227,260,292,340,380,450];
const p12_m2V=[-4.45,-4.8,-5.05,-5.48,-5.72,-5.89,-6.05,-6.18,-6.28,-6.37,-6.44,-6.5,-6.58,-6.64,-6.64];

// ---------- assemble ----------
const panelSeries=[
 {cbd:p1_cbd,neg:p1_neg,in1:[p1_in1T,p1_in1Hi,p1_in1Lo],in2:[p1_in2T,p1_in2Hi,p1_in2Lo],m1:[p1_m1T,p1_m1V],m2:[p1_m2T,p1_m2V]},
 {cbd:p2_cbd,neg:p2_neg,in1:[p2_in1T,p2_in1Hi,p2_in1Lo],in2:[p2_in2T,p2_in2Hi,p2_in2Lo],m1:[p2_m1T,p2_m1V],m2:[p2_m2T,p2_m2V]},
 {cbd:p3_cbd,neg:p3_neg,in1:[p3_in1T,p3_in1Hi,p3_in1Lo],in2:[p3_in2T,p3_in2Hi,p3_in2Lo],m1:[p3_m1T,p3_m1V],m2:[p3_m2T,p3_m2V]},
 {cbd:p4_cbd,neg:p4_neg,in1:[p4_in1T,p4_in1Hi,p4_in1Lo],in2:[p4_in2T,p4_in2Hi,p4_in2Lo],m1:[p4_m1T,p4_m1V],m2:[p4_m2T,p4_m2V]},
 {cbd:p5_cbd,neg:p5_neg,in1:[p5_in1T,p5_in1Hi,p5_in1Lo],in2:[p5_in2T,p5_in2Hi,p5_in2Lo],m1:[p5_m1T,p5_m1V],m2:[p5_m2T,p5_m2V]},
 {cbd:p6_cbd,neg:p6_neg,in1:[p6_in1T,p6_in1Hi,p6_in1Lo],in2:[p6_in2T,p6_in2Hi,p6_in2Lo],m1:[p6_m1T,p6_m1V],m2:[p6_m2T,p6_m2V]},
 {cbd:p7_cbd,neg:p7_neg,in1:[p7_in1T,p7_in1Hi,p7_in1Lo],in2:[p7_in2T,p7_in2Hi,p7_in2Lo],m1:[p7_m1T,p7_m1V],m2:[p7_m2T,p7_m2V]},
 {cbd:p8_cbd,neg:p8_neg,in1:[p8_in1T,p8_in1Hi,p8_in1Lo],in2:[p8_in2T,p8_in2Hi,p8_in2Lo],m1:[p8_m1T,p8_m1V],m2:[p8_m2T,p8_m2V]},
 {cbd:p9_cbd,neg:p9_neg,in1:[p9_in1T,p9_in1Hi,p9_in1Lo],in2:[p9_in2T,p9_in2Hi,p9_in2Lo],m1:[p9_m1T,p9_m1V],m2:[p9_m2T,p9_m2V]},
 {cbd:p10_cbd,neg:p10_neg,in1:[p10_in1T,p10_in1Hi,p10_in1Lo],in2:[p10_in2T,p10_in2Hi,p10_in2Lo],m1:[p10_m1T,p10_m1V],m2:[p10_m2T,p10_m2V]},
 {cbd:p11_cbd,neg:p11_neg,in1:[p11_in1T,p11_in1Hi,p11_in1Lo],in2:[p11_in2T,p11_in2Hi,p11_in2Lo],m1:[p11_m1T,p11_m1V],m2:[p11_m2T,p11_m2V]},
 {cbd:p12_cbd,neg:p12_neg,in1:[p12_in1T,p12_in1Hi,p12_in1Lo],in2:null,m1:[p12_m1T,p12_m1V],m2:[p12_m2T,p12_m2V]}
];

// ---------- drawing ----------
const W=1582,H=1381;
const svg=d3.select("#chart");
svg.append("rect").attr("width",W).attr("height",H).attr("fill","#000");
const colLeft=[164,639.8,1115.6], panelW=475.8;
const rowTop=[7,324.75,642.5,960.25], panelH=317.75;
const serif="'Liberation Serif','DejaVu Serif','Times New Roman',serif";
const C_BLUE="#0000ff", C_RED="#ff0000", C_GREEN="#008000";
const F_BLUE="rgba(0,0,255,0.5)", F_RED="rgba(255,0,0,0.54)";

panelSeries.forEach((p,i)=>{
  const r=Math.floor(i/3), c=i%3;
  const x0=colLeft[c], y0=rowTop[r];
  const x=d3.scaleLinear().domain(xLim).range([x0,x0+panelW]);
  const y=d3.scaleLog().domain(c===0?yLimCol1:yLimCol23).range([y0+panelH,y0]);
  const P=v=>y(Math.pow(10,v));
  const g=svg.append("g");
  g.append("clipPath").attr("id","clip"+i).append("rect").attr("x",x0).attr("y",y0).attr("width",panelW).attr("height",panelH);
  g.append("rect").attr("x",x0).attr("y",y0).attr("width",panelW).attr("height",panelH).attr("fill","#fff");
  const body=g.append("g").attr("clip-path",`url(#clip${i})`);

  function band(b,fill){
    if(!b) return;
    const [T,Hi,Lo]=b;
    const area=d3.area()
      .x((d,j)=>x(T[j]))
      .y0((d,j)=>P(Array.isArray(Lo)?Lo[j]:Lo))
      .y1((d,j)=>P(Hi[j]));
    body.append("path").datum(T).attr("d",area).attr("fill",fill);
  }
  band(p.in1,F_BLUE);
  band(p.in2,F_RED);

  function smooth(s,color){
    const [T,V]=s;
    const line=d3.line().x((d,j)=>x(T[j])).y((d,j)=>P(V[j])).curve(d3.curveMonotoneX);
    body.append("path").datum(T).attr("d",line).attr("fill","none").attr("stroke",color)
      .attr("stroke-width",3).attr("stroke-linejoin","round").attr("stroke-linecap","round");
  }
  smooth(p.m1,C_BLUE);
  smooth(p.m2,C_RED);

  // circumbinary accretion: solid where positive, thin dashed in the negative intervals
  const pts=p.cbd.map((v,j)=>[x(j*cbdStep),P(v)]);
  const segNeg=j=>{const tm=(j+0.5)*cbdStep;return p.neg.some(([a,b])=>tm>a&&tm<b);};
  const runs=[];let cur=null;
  for(let j=0;j<pts.length-1;j++){
    const n=segNeg(j);
    if(!cur||cur.neg!==n){cur={neg:n,pts:[pts[j]]};runs.push(cur);}
    cur.pts.push(pts[j+1]);
  }
  runs.forEach(rn=>{
    body.append("path").attr("d",d3.line()(rn.pts)).attr("fill","none").attr("stroke",C_GREEN)
      .attr("stroke-width",rn.neg?1.6:3).attr("stroke-dasharray",rn.neg?"5.5,2.6":null)
      .attr("stroke-linejoin","round");
  });

  // frame
  g.append("rect").attr("x",x0).attr("y",y0).attr("width",panelW).attr("height",panelH)
    .attr("fill","none").attr("stroke","#858585").attr("stroke-width",1.6);

  // panel label
  g.append("text").attr("x",x0+9).attr("y",y0+38).attr("font-family",serif).attr("font-size",27)
    .attr("fill","#1a1a1a").text(panelNames[i]);

  // y ticks
  const yAxis=d3.axisLeft(y).tickValues(yTickValues).tickFormat("").tickSize(15).tickSizeOuter(0);
  const ya=svg.append("g").attr("transform",`translate(${x0},0)`).call(yAxis);
  ya.select(".domain").remove();
  ya.selectAll(".tick line").attr("stroke",c===0?"#e6e6e6":"#333").attr("stroke-width",1.4);
  if(c===0){
    yTickValues.forEach((tv,k)=>{
      const ty=y(tv);
      const t=svg.append("text").attr("x",142).attr("y",ty+15).attr("text-anchor","end")
        .attr("font-family",serif).attr("fill","#fff").attr("font-size",39);
      t.append("tspan").text("10");
      t.append("tspan").attr("font-size",25).attr("dx",2).attr("dy",-15).text(yTickExponents[k]);
    });
    const cy=y0+panelH/2;
    const lab=svg.append("text").attr("transform",`translate(51,${cy}) rotate(-90)`).attr("text-anchor","middle")
      .attr("font-family",serif).attr("fill","#fff").attr("font-size",43);
    lab.append("tspan").attr("font-style","italic").text("M");
    lab.append("tspan").text(" (M");
    lab.append("tspan").attr("font-size",28).attr("dy",7).text("⊙");
    lab.append("tspan").attr("dy",-7).text(" yr");
    lab.append("tspan").attr("font-size",28).attr("dy",-16).text("−1");
    lab.append("tspan").attr("dy",16).text(")");
  }

  // x axis on the bottom row
  if(r===3){
    const yb=y0+panelH;
    const minor=d3.axisBottom(x).tickValues(xMinorTicks).tickFormat("").tickSize(8).tickSizeOuter(0);
    const major=d3.axisBottom(x).tickValues(xMajorTicks).tickFormat("").tickSize(17).tickSizeOuter(0);
    [minor,major].forEach(ax=>{
      const a=svg.append("g").attr("transform",`translate(0,${yb})`).call(ax);
      a.select(".domain").attr("stroke","#bdbdbd").attr("stroke-width",1.6);
      a.selectAll(".tick line").attr("stroke","#d8d8d8").attr("stroke-width",1.4);
    });
    xMajorTicks.forEach(tv=>{
      svg.append("text").attr("x",x(tv)).attr("y",1327).attr("text-anchor","middle")
        .attr("font-family",serif).attr("font-size",36).attr("fill","#fff").text(String(tv));
    });
    const xl=svg.append("text").attr("x",x0+panelW/2).attr("y",1370.5).attr("text-anchor","middle")
      .attr("font-family",serif).attr("font-size",39).attr("fill","#fff");
    xl.append("tspan").attr("font-style","italic").text("t");
    xl.append("tspan").text("/");
    xl.append("tspan").attr("font-style","italic").text("T");
    xl.append("tspan").attr("font-size",26).attr("dy",4.5).text("orb");
  }
});

// ---------- legends ----------
const legendRows=[
  {x1:184,x2:253,y:238.5,color:F_BLUE,w:2.2,tx:273,ty:252,sub:"inflow,1"},
  {x1:184,x2:253,y:284.5,color:F_RED,w:2.2,tx:273,ty:297,sub:"inflow,2"},
  {x1:412,x2:483,y:239,color:C_BLUE,w:4,tx:503,ty:250,sub:"1"},
  {x1:412,x2:483,y:280,color:C_RED,w:4,tx:503,ty:291,sub:"2"},
  {x1:661,x2:731,y:286.5,color:C_GREEN,w:3.5,tx:752,ty:297,sub:"cbd"}
];
legendRows.forEach(l=>{
  svg.append("line").attr("x1",l.x1).attr("x2",l.x2).attr("y1",l.y).attr("y2",l.y)
    .attr("stroke",l.color).attr("stroke-width",l.w);
  const t=svg.append("text").attr("x",l.tx).attr("y",l.ty).attr("font-family",serif).attr("font-size",27).attr("fill","#111");
  t.append("tspan").attr("font-style","italic").text("Ṁ");
  t.append("tspan").attr("font-size",19).attr("dy",5).text(l.sub);
});
</script>
</body></html>
